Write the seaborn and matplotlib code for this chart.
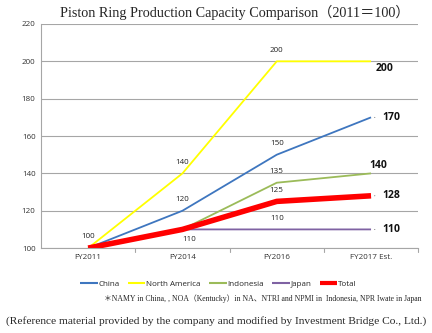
import matplotlib
matplotlib.use("Agg")
import matplotlib.pyplot as plt
import seaborn as sns
import pandas as pd

categories = ["FY2011", "FY2014", "FY2016", "FY2017 Est."]
series_names = ["China", "North America", "Indonesia", "Japan", "Total"]
china = [100, 120, 150, 170]
north_america = [100, 140, 200, 200]
indonesia = [100, 110, 135, 140]
japan = [100, 110, 110, 110]
total = [100, 110, 125, 128]
yticks = [100, 120, 140, 160, 180, 200, 220]

values = [china, north_america, indonesia, japan, total]
colors = ["#3e76bf", "#ffff00", "#9bbb59", "#7f62a3", "#ff0000"]
widths = [1.3, 1.3, 1.3, 1.3, 4.0]

rows = []
for name, vals in zip(series_names, values):
    for i, v in enumerate(vals):
        rows.append({"series": name, "x": i, "value": v})
df = pd.DataFrame(rows)

sns.set_style("white")
plt.rcParams["font.family"] = ["Open Sans", "DejaVu Sans"]

fig = plt.figure(figsize=(4.32, 3.33), dpi=100)
ax = fig.add_axes([0.095, 0.255, 0.873, 0.673])

for name, col, lw in zip(series_names, colors, widths):
    sub = df[df["series"] == name]
    sns.lineplot(data=sub, x="x", y="value", color=col, linewidth=lw, ax=ax,
                 label=name, solid_capstyle="butt")

ax.set_xlim(-0.5, 3.5)
ax.set_ylim(100, 220)
ax.set_yticks(yticks)
ax.set_xticks(range(len(categories)))
ax.set_xticklabels(categories)
ax.tick_params(axis="both", labelsize=5.8, length=0, pad=4, colors="#333333")
ax.set_xlabel("")
ax.set_ylabel("")
ax.grid(axis="y", color="#a6a6a6", linewidth=0.8)
ax.set_axisbelow(True)
for s in ["top", "right"]:
    ax.spines[s].set_visible(False)
ax.spines["left"].set_color("#a6a6a6")
ax.spines["bottom"].set_color("#a6a6a6")
ax.spines["left"].set_linewidth(0.8)
ax.spines["bottom"].set_linewidth(0.8)
for b in [0.5, 1.5, 2.5, 3.5]:
    ax.plot([b, b], [100, 98], color="#a6a6a6", lw=0.8, clip_on=False)

lab = dict(fontsize=5.8, ha="center", va="center", color="#222222")
pts = [
    (0, china[0], 0, 8, "100"),
    (1, north_america[1], 0, 8, "140"),
    (1, china[1], 0, 8, "120"),
    (2, north_america[2], 0, 8, "200"),
    (2, china[2], 0, 8, "150"),
    (2, indonesia[2], 0, 8, "135"),
    (2, total[2], 0, 8, "125"),
    (2, japan[2], 0, 8, "110"),
    (1, japan[1], 5, -7, "110"),
]
for x, y, dx, dy, t in pts:
    ax.annotate(t, (x, y), xytext=(dx, dy), textcoords="offset points", **lab)

endlab = dict(fontsize=7.5, fontweight="bold", color="#111111", va="center", ha="left")
ax.annotate(str(north_america[3]), (3, north_america[3]), xytext=(3, -5),
            textcoords="offset points", **endlab)
ends = [(china[3], 8, 0), (indonesia[3], -1, 6), (total[3], 8, 0), (japan[3], 8, 0)]
for y, dx, dy in ends:
    ax.annotate(str(y), (3, y), xytext=(dx, dy), textcoords="offset points", **endlab)
    if dy == 0:
        ax.annotate("", (3.01, y), xytext=(3.07, y),
                    arrowprops=dict(arrowstyle="-", color="#222222", lw=0.6))

leg = ax.legend(loc="upper center", bbox_to_anchor=(0.47, -0.11), ncol=5, frameon=False,
                fontsize=5.8, handlelength=2.2, handletextpad=0.1, columnspacing=1.0)
for h in leg.get_lines():
    h.set_linewidth(1.5)
leg.get_lines()[4].set_linewidth(3)

fig.text(0.543, 0.962, "Piston Ring Production Capacity Comparison（2011＝100）",
         ha="center", va="center", fontsize=10.2,
         family=["Liberation Serif", "Noto Sans CJK JP", "DejaVu Sans"])
fig.text(0.975, 0.103, "＊NAMY in China, , NOA（Kentucky）in NA、NTRI and NPMI in  Indonesia, NPR Iwate in Japan",
         ha="right", va="center", fontsize=5.6,
         family=["Liberation Serif", "Noto Sans CJK JP", "DejaVu Sans"])
fig.text(0.5, 0.037, "(Reference material provided by the company and modified by Investment Bridge Co., Ltd.)",
         ha="center", va="center", fontsize=8.2,
         family=["Liberation Serif", "DejaVu Sans"])

fig.savefig("out.png", dpi=100)
